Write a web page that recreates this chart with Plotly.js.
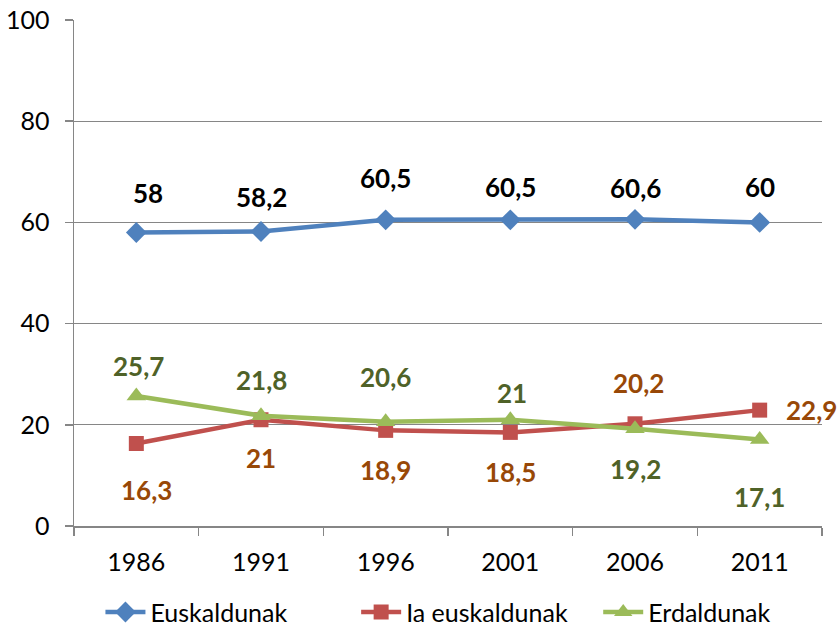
<!DOCTYPE html>
<html><head><meta charset="utf-8">
<script src="https://cdn.plot.ly/plotly-3.0.1.min.js"></script>
<style>html,body{margin:0;padding:0;background:#fff;}#chart{width:837px;height:626px;}</style>
</head><body><div id="chart"></div>
<script>
const years = ['1986','1991','1996','2001','2006','2011'];
const euskaldunak = [58, 58.2, 60.5, 60.5, 60.6, 60];
const iaEuskaldunak = [16.3, 21, 18.9, 18.5, 20.2, 22.9];
const erdaldunak = [25.7, 21.8, 20.6, 21, 19.2, 17.1];
const seriesNames = ['Euskaldunak', 'Ia euskaldunak', 'Erdaldunak'];

const FONT = 'Lato, "Open Sans", sans-serif';
const fmt = v => String(v).replace('.', ',');
const pad = n => '\u00a0'.repeat(n);

// label offsets (pixels) per point, per series: [dx, dy up]
const blueShift = [[12,40],[0,35],[0,42],[0,33],[0,31],[0,35]];
const redShift = [[10,-46],[0,-38],[0,-40],[0,-40],[3,41],[52,0]];
const greenShift = [[2,30],[0,36],[0,45],[2,27],[0,-40],[0,-58]];

const series = [
  {y: euskaldunak, color:'#4F81BD', symbol:'diamond', size:16, lab:'#000000', shift: blueShift, pad: 10},
  {y: iaEuskaldunak, color:'#C0504D', symbol:'square', size:15, lab:'#984807', shift: redShift, pad: 4},
  {y: erdaldunak, color:'#9BBB59', symbol:'triangle-up', size:17, lab:'#4F6228', shift: greenShift, pad: 0}
];

const traces = series.map((s, i) => ({
  type:'scatter', mode:'lines+markers', name: seriesNames[i] + pad(s.pad),
  x: years, y: s.y,
  line:{color:s.color, width:4.5},
  marker:{color:s.color, symbol:s.symbol, size:s.size}
}));

const annotations = [];
series.forEach(s => {
  s.y.forEach((v, j) => {
    annotations.push({
      x: j, y: v, xref:'x', yref:'y', text: '<b>' + fmt(v) + '</b>', showarrow:false,
      xshift: s.shift[j][0], yshift: s.shift[j][1],
      font:{family:FONT, size:26, color:s.lab}
    });
  });
});

const layout = {
  width:837, height:626,
  margin:{l:74, r:15, t:20, b:100, autoexpand:false},
  paper_bgcolor:'#ffffff', plot_bgcolor:'#ffffff',
  font:{family:FONT, size:25, color:'#000000'},
  showlegend:true,
  legend:{orientation:'h', xref:'container', x:0.12, xanchor:'left', yref:'container', y:0.022, yanchor:'middle',
    font:{family:FONT, size:25, color:'#000000'}, itemwidth:40, traceorder:'normal'},
  xaxis:{type:'category', range:[-0.5,5.5], showgrid:false, showline:true, linecolor:'#868686', linewidth:1.5,
    ticks:'outside', tickson:'boundaries', ticklen:8, tickcolor:'#868686', tickwidth:1.5,
    tickfont:{family:FONT, size:25, color:'#000000'}, ticklabelstandoff:13, zeroline:false},
  yaxis:{range:[0,100], dtick:20, showgrid:true, gridcolor:'#868686', gridwidth:1.3,
    showline:true, linecolor:'#868686', linewidth:1.5, ticks:'outside', ticklen:8, tickcolor:'#868686', tickwidth:1.5,
    tickfont:{family:FONT, size:25, color:'#000000'}, ticklabelstandoff:10, zeroline:false},
  annotations: annotations
};

Plotly.newPlot('chart', traces, layout, {displayModeBar:false, staticPlot:true});
</script></body></html>
